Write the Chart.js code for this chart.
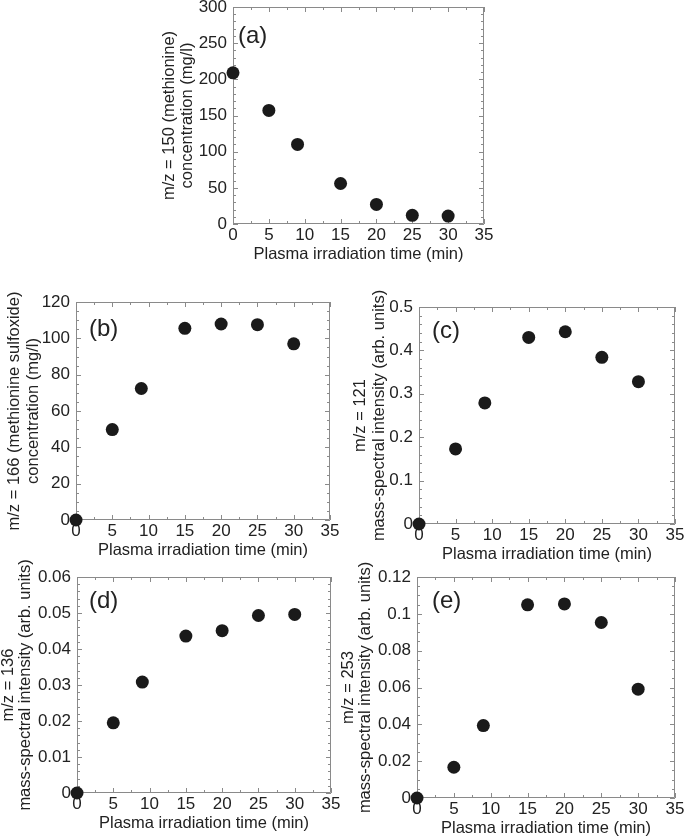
<!DOCTYPE html>
<html>
<head>
<meta charset="utf-8">
<script src="https://cdn.jsdelivr.net/npm/chart.js@4.4.0/dist/chart.umd.min.js"></script>
<style>
  html, body { margin: 0; padding: 0; background: #fff; overflow: hidden; }
  body { width: 685px; height: 838px; position: relative; }
  .panel { position: absolute; }
</style>
</head>
<body>
<div class="panel" id="wrap-a"><canvas id="chart-a"></canvas></div>
<div class="panel" id="wrap-b"><canvas id="chart-b"></canvas></div>
<div class="panel" id="wrap-c"><canvas id="chart-c"></canvas></div>
<div class="panel" id="wrap-d"><canvas id="chart-d"></canvas></div>
<div class="panel" id="wrap-e"><canvas id="chart-e"></canvas></div>
<script>
// --- DATA ---
const timeMin = [0, 5, 9, 15, 20, 25, 30];          // plasma irradiation time (min)
const methionine = [209, 157, 110, 56, 27, 12, 11];   // m/z 150 (mg/l)
const sulfoxide = [0, 49.8, 72.4, 105.5, 107.9, 107.5, 97]; // m/z 166 (mg/l)
const mz121 = [0, 0.173, 0.279, 0.430, 0.443, 0.384, 0.328];
const mz136 = [0, 0.0195, 0.0308, 0.0436, 0.0451, 0.0493, 0.0496];
const mz253 = [0, 0.0167, 0.0393, 0.1049, 0.1054, 0.0953, 0.0591];

// axis ranges: [min, max, major step, minor step]
const xRange = [0, 35, 5, 2.5];
const yRangeA = [0, 300, 50, 10];
const yRangeB = [0, 120, 20, 5];
const yRangeC = [0, 0.5, 0.1, 0.02];
const yRangeD = [0, 0.06, 0.01, 0.002];
const yRangeE = [0, 0.12, 0.02, 0.005];

const xTitle = 'Plasma irradiation time (min)';
const yTitleA = ['m/z = 150 (methionine)', 'concentration (mg/l)'];
const yTitleB = ['m/z = 166 (methionine sulfoxide)', 'concentration (mg/l)'];
const yTitleC = ['m/z = 121', 'mass-spectral intensity (arb. units)'];
const yTitleD = ['m/z = 136', 'mass-spectral intensity (arb. units)'];
const yTitleE = ['m/z = 253', 'mass-spectral intensity (arb. units)'];

// --- LAYOUT ---
const FONT = '"Liberation Sans", Arial, Helvetica, sans-serif';
const TEXT_COLOR = '#222';
const AXIS_COLOR = '#8a8a8a';
const PAD_TOP = 40, PAD_RIGHT = 14, XAXIS_H = 45;

const panels = [
    { key: 'a', label: '(a)', values: methionine, yRange: yRangeA, yTitle: yTitleA,
      plot: { L: 233, T: 7, R: 484, B: 224 }, left: 150, labelAt: [5, 29], titleOff: [64, 46] },
    { key: 'b', label: '(b)', values: sulfoxide, yRange: yRangeB, yTitle: yTitleB,
      plot: { L: 76, T: 302, R: 330, B: 520 }, left: 0, labelAt: [13, 27], titleOff: [62, 43] },
    { key: 'c', label: '(c)', values: mz121, yRange: yRangeC, yTitle: yTitleC,
      plot: { L: 419, T: 307, R: 675, B: 524 }, left: 340, labelAt: [13, 24], titleOff: [59, 40] },
    { key: 'd', label: '(d)', values: mz136, yRange: yRangeD, yTitle: yTitleD,
      plot: { L: 77, T: 577, R: 331, B: 793 }, left: 0, labelAt: [12, 24], titleOff: [69, 52] },
    { key: 'e', label: '(e)', values: mz253, yRange: yRangeE, yTitle: yTitleE,
      plot: { L: 417, T: 577, R: 675, B: 798 }, left: 340, labelAt: [15, 24], titleOff: [69, 52] }
];

// Frame, inward ticks, panel tag and y title
const frameTicks = {
    id: 'frameTicks',
    beforeDatasetsDraw(chart, args, opts) {
        const { ctx, chartArea: a, scales: { x, y } } = chart;
        ctx.save();
        ctx.strokeStyle = AXIS_COLOR;
        ctx.lineWidth = 1;
        ctx.beginPath();
        ctx.rect(a.left + 0.5, a.top + 0.5, a.right - a.left - 1, a.bottom - a.top - 1);

        const tickSet = (range, cb) => {
            const [min, max, major, minor] = range;
            const n = Math.round((max - min) / minor);
            for (let i = 0; i <= n; i++) {
                const v = min + i * minor;
                const isMajor = Math.abs(v / major - Math.round(v / major)) < 1e-6;
                cb(v, isMajor ? 5 : 3);
            }
        };
        tickSet(xRange, (v, len) => {
            const px = Math.round(x.getPixelForValue(v)) + 0.5;
            ctx.moveTo(px, a.bottom); ctx.lineTo(px, a.bottom - len);
            ctx.moveTo(px, a.top); ctx.lineTo(px, a.top + len);
        });
        tickSet(opts.yRange, (v, len) => {
            const py = Math.round(y.getPixelForValue(v)) + 0.5;
            ctx.moveTo(a.left, py); ctx.lineTo(a.left + len, py);
            ctx.moveTo(a.right, py); ctx.lineTo(a.right - len, py);
        });
        ctx.stroke();

        // panel tag
        ctx.fillStyle = TEXT_COLOR;
        ctx.font = '24px ' + FONT;
        ctx.textAlign = 'left';
        ctx.textBaseline = 'middle';
        ctx.fillText(opts.label, a.left + opts.labelAt[0], a.top + opts.labelAt[1]);

        // y title, two lines, rotated
        ctx.font = '16.5px ' + FONT;
        ctx.textAlign = 'center';
        const cy = (a.top + a.bottom) / 2;
        opts.yTitle.forEach((line, i) => {
            ctx.save();
            ctx.translate(a.left - opts.titleOff[i], cy);
            ctx.rotate(-Math.PI / 2);
            ctx.fillText(line, 0, 0);
            ctx.restore();
        });
        ctx.restore();
    }
};

const fmt = v => String(Number(v.toFixed(6)));

function buildChart(p) {
    const wrap = document.getElementById('wrap-' + p.key);
    const top = p.plot.T - PAD_TOP;
    const yw = p.plot.L - p.left;
    wrap.style.left = p.left + 'px';
    wrap.style.top = top + 'px';
    wrap.style.width = (p.plot.R + PAD_RIGHT - p.left) + 'px';
    wrap.style.height = (p.plot.B + XAXIS_H - top) + 'px';

    const ctx = document.getElementById('chart-' + p.key).getContext('2d');
    return new Chart(ctx, {
        type: 'scatter',
        data: {
            datasets: [{
                data: timeMin.map((t, i) => ({ x: t, y: p.values[i] })),
                backgroundColor: '#1a1a1a',
                borderWidth: 0,
                pointRadius: 6.5,
                pointHoverRadius: 6.5,
                clip: false
            }]
        },
        options: {
            responsive: true,
            maintainAspectRatio: false,
            animation: false,
            layout: { padding: { top: PAD_TOP, right: PAD_RIGHT, left: 0, bottom: 0 } },
            plugins: {
                legend: { display: false },
                tooltip: { enabled: false },
                frameTicks: { label: p.label, labelAt: p.labelAt, yTitle: p.yTitle,
                              titleOff: p.titleOff, yRange: p.yRange }
            },
            scales: {
                x: {
                    type: 'linear',
                    min: xRange[0], max: xRange[1],
                    afterFit(s) { s.height = XAXIS_H; },
                    grid: { display: false, drawTicks: false },
                    border: { display: false },
                    ticks: { stepSize: xRange[2], autoSkip: false, padding: 1, color: TEXT_COLOR,
                             font: { size: 17 }, maxRotation: 0, callback: fmt },
                    title: { display: true, text: xTitle, color: TEXT_COLOR,
                             font: { size: 16.5 }, padding: { top: 0, bottom: 5 } }
                },
                y: {
                    type: 'linear',
                    min: p.yRange[0], max: p.yRange[1],
                    afterFit(s) { s.width = yw; },
                    grid: { display: false, drawTicks: false },
                    border: { display: false },
                    ticks: { stepSize: p.yRange[2], autoSkip: false, padding: 6, color: TEXT_COLOR,
                             font: { size: 17 }, callback: fmt }
                }
            }
        },
        plugins: [frameTicks]
    });
}

Chart.defaults.font.family = FONT;
document.addEventListener('DOMContentLoaded', function () {
    panels.forEach(buildChart);
});
</script>
</body>
</html>
